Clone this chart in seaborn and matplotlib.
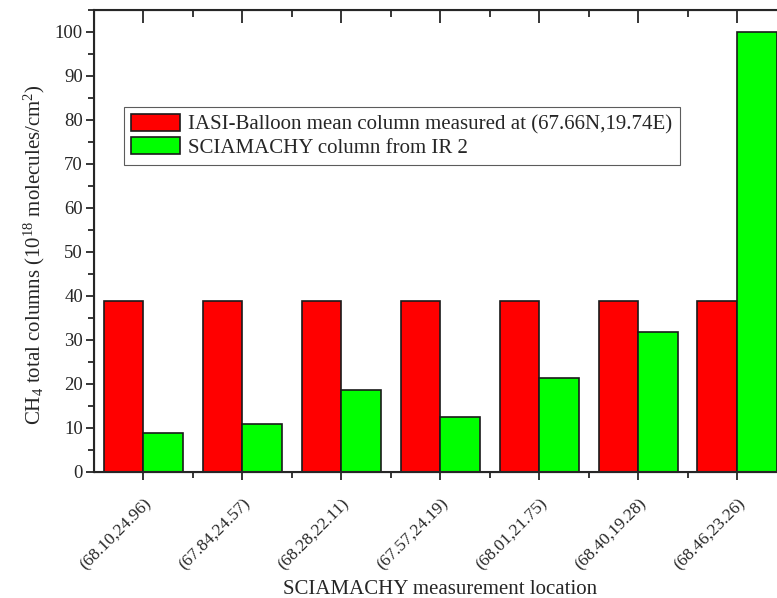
import matplotlib
matplotlib.use("Agg")
import matplotlib.pyplot as plt
from matplotlib.ticker import MultipleLocator
import pandas as pd
import seaborn as sns

# values
locations = ["(68.10,24.96)", "(67.84,24.57)", "(68.28,22.11)", "(67.57,24.19)",
             "(68.01,21.75)", "(68.40,19.28)", "(68.46,23.26)"]
iasi_balloon = [38.9, 38.9, 38.9, 38.9, 38.9, 38.9, 38.9]
sciamachy = [8.9, 11.0, 18.7, 12.5, 21.4, 31.9, 100.0]
series_names = ["IASI-Balloon mean column measured at (67.66N,19.74E)",
                "SCIAMACHY column from IR 2"]
series_colors = ["#ff0000", "#00ff00"]

df = pd.DataFrame({
    "location": locations * 2,
    "value": iasi_balloon + sciamachy,
    "series": [series_names[0]] * len(locations) + [series_names[1]] * len(locations),
})

sns.set_style("ticks")
plt.rcParams["font.family"] = ["Liberation Serif", "DejaVu Serif"]
plt.rcParams["mathtext.fontset"] = "custom"
plt.rcParams["mathtext.rm"] = "Liberation Serif"
plt.rcParams["mathtext.it"] = "Liberation Serif:italic"

fig = plt.figure(figsize=(7.77, 5.98), dpi=100)
ax = fig.add_axes([94 / 777, 1 - 472 / 598, 692.5 / 777, 462 / 598])

sns.barplot(data=df, x="location", y="value", hue="series",
            palette=series_colors, saturation=1, width=0.8,
            edgecolor="#1a1a1a", linewidth=1.2, ax=ax)

ax.set_xlim(-0.5, 6.5)
ax.set_ylim(0, 105)
ax.yaxis.set_major_locator(MultipleLocator(10))
ax.yaxis.set_minor_locator(MultipleLocator(5))
ax.set_xticks(range(len(locations)))
ax.set_xticks([i + 0.5 for i in range(len(locations) - 1)], minor=True)
ax.set_xticklabels(locations, rotation=45, ha="right", rotation_mode="anchor", fontsize=12.5)
ax.tick_params(axis="y", labelsize=13.5, width=1.3, length=6, direction="out", pad=2)
ax.tick_params(axis="y", which="minor", width=1.3, length=4)
ax.tick_params(axis="x", which="major", width=1.3, length=6, direction="out", pad=11)
ax.tick_params(axis="x", which="minor", width=1.3, length=4, direction="out")

for side in ["left", "bottom", "top", "right"]:
    ax.spines[side].set_linewidth(1.5)
    ax.spines[side].set_visible(True)

# top ticks point inward like the original
top = ax.twiny()
top.set_xlim(ax.get_xlim())
top.set_xticks(range(len(locations)))
top.set_xticks([i + 0.5 for i in range(len(locations) - 1)], minor=True)
top.tick_params(axis="x", which="major", direction="in", length=9, width=1.3, labeltop=False)
top.tick_params(axis="x", which="minor", direction="in", length=5, width=1.3, labeltop=False)

ax.set_xlabel("SCIAMACHY measurement location", fontsize=15, labelpad=5)
ax.set_ylabel(r"CH$_4$ total columns (10$^{18}$ molecules/cm$^2$)", fontsize=15)
ax.yaxis.set_label_coords(-0.068, 0.47)

leg = ax.legend(loc="upper left", bbox_to_anchor=(0.043, 0.79), borderaxespad=0,
                fontsize=15, fancybox=False, frameon=True, handlelength=2.35,
                handleheight=0.85, handletextpad=0.4, borderpad=0.35, labelspacing=0.12)
leg.get_frame().set_edgecolor("#333333")
leg.get_frame().set_linewidth(0.8)

fig.savefig("out.png", dpi=100)
